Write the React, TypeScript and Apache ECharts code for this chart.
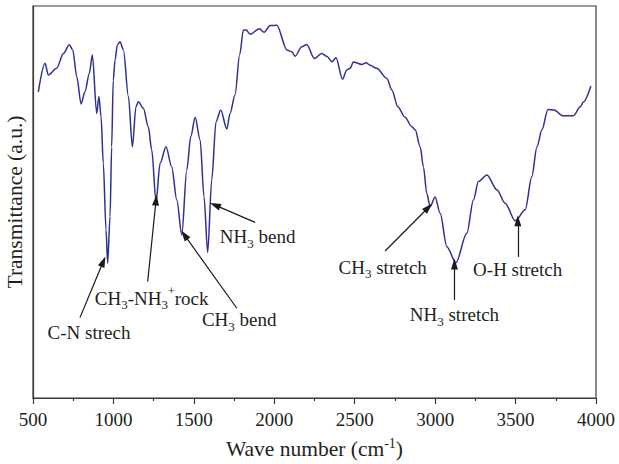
import React, { useEffect, useRef } from "react";
import * as echarts from "echarts";

const wavenumbers = [
  533, 575, 595, 647, 689, 726, 747, 772, 799, 823, 850, 869, 896, 910, 923, 937, 954, 964, 979, 989,
  999, 1010, 1024, 1041, 1062, 1093, 1118, 1140, 1155, 1186, 1217, 1238, 1265, 1290, 1327, 1362, 1394,
  1425, 1456, 1481, 1508, 1539, 1563, 1586, 1611, 1638, 1667, 1705, 1725, 1756, 1785, 1808, 1825, 1850,
  1907, 1937, 1974, 2016, 2078, 2109, 2129, 2171, 2202, 2249, 2295, 2326, 2358, 2384, 2424, 2451, 2471,
  2492, 2544, 2571, 2596, 2637, 2700, 2731, 2768, 2813, 2855, 2876, 2907, 2927, 2948, 2969, 3000, 3031,
  3073, 3129, 3197, 3238, 3269, 3322, 3384, 3435, 3498, 3560, 3601, 3633, 3664, 3701, 3740, 3792, 3860,
  3902, 3923, 3968,
];
const transmittance = [
  78.1, 85.4, 82.4, 84.1, 87.9, 90.1, 88.8, 82.0, 75.0, 78.1, 82.8, 87.5, 72.6, 76.9, 71.8, 59.9, 42.9,
  34.4, 46.3, 64.1, 81.1, 86.2, 90.0, 90.9, 88.8, 76.9, 64.1, 74.3, 75.6, 73.9, 69.2, 63.3, 50.1, 59.9,
  64.1, 59.0, 50.5, 41.6, 58.2, 66.7, 71.6, 65.8, 51.4, 37.1, 55.6, 70.5, 73.5, 68.6, 72.6, 77.3, 87.6,
  93.9, 93.9, 92.8, 94.2, 93.3, 95.0, 95.1, 88.8, 88.3, 87.2, 89.6, 90.2, 86.6, 87.9, 87.2, 85.8, 86.8,
  81.3, 83.7, 84.1, 85.7, 85.1, 85.5, 84.9, 84.1, 81.5, 78.6, 74.3, 71.6, 69.2, 68.4, 64.1, 59.0, 52.2,
  48.8, 51.3, 47.1, 38.6, 34.5, 42.0, 50.5, 55.2, 56.9, 53.1, 49.7, 45.2, 48.0, 56.5, 64.1, 68.4, 73.6,
  73.5, 72.0, 72.0, 74.3, 75.6, 79.6,
];
const xTicks = [500, 1000, 1500, 2000, 2500, 3000, 3500, 4000];

// annotation labels (rich text), their anchor positions and arrow tails/heads in data units
const annLabels = [
  "C-N strech",
  "CH{s|3}-NH{s|3}{p|+}rock",
  "CH{s|3} bend",
  "NH{s|3} bend",
  "CH{s|3} stretch",
  "NH{s|3} stretch",
  "O-H stretch",
];
const annTextX = [848, 1238, 1782, 1896, 2674, 3120, 3513];
const annTextY = [16.6, 25.5, 19.9, 41.1, 33.4, 21.2, 32.7];
const arrowFromX = [792, 1213, 1767, 1881, 2689, 3120, 3514];
const arrowFromY = [20.5, 29.7, 22.9, 44.8, 37.5, 25.0, 36.0];
const arrowToX = [937, 1265, 1441, 1632, 2958, 3120, 3514];
const arrowToY = [34.8, 50.5, 41.6, 49.2, 48.6, 34.2, 45.2];

const FONT = "'Liberation Serif', 'DejaVu Serif', serif";
const TEXT = "#231f20";

export default function App() {
  const ref = useRef<HTMLDivElement>(null);
  useEffect(() => {
    if (!ref.current) return;
    const chart = echarts.init(ref.current, undefined, { renderer: "svg" });
    const data = wavenumbers.map((w, i) => [w, transmittance[i]]);
    const rich = {
      s: { fontSize: 13, fontFamily: FONT, color: TEXT, verticalAlign: "bottom", lineHeight: 13 },
      p: { fontSize: 12, fontFamily: FONT, color: TEXT, verticalAlign: "top", lineHeight: 16 },
    };
    chart.setOption({
      animation: false,
      grid: {
        left: 33,
        right: 23,
        top: 6,
        bottom: 66,
        containLabel: false,
        outerBoundsMode: "none",
        show: true,
        borderColor: "#3a3a3a",
        borderWidth: 1.2,
        backgroundColor: "transparent",
      },
      xAxis: {
        type: "value",
        min: xTicks[0],
        max: xTicks[xTicks.length - 1],
        interval: 500,
        name: "Wave number (cm{sup|-1})",
        nameLocation: "middle",
        nameGap: 38,
        nameTextStyle: {
          fontSize: 21.5,
          fontFamily: FONT,
          color: TEXT,
          lineHeight: 26,
          rich: {
            sup: { fontSize: 14, fontFamily: FONT, color: TEXT, verticalAlign: "top", lineHeight: 18 },
          },
        },
        axisLine: { show: true, lineStyle: { color: "#3a3a3a", width: 1.2 } },
        axisTick: { show: true, inside: false, length: 6, lineStyle: { color: "#3a3a3a", width: 1.2 } },
        minorTick: { show: true, splitNumber: 2, length: 3, lineStyle: { color: "#3a3a3a", width: 1.2 } },
        splitLine: { show: false },
        axisLabel: {
          fontSize: 19,
          fontFamily: FONT,
          color: TEXT,
          margin: 12,
          formatter: (v: number) => String(v),
        },
      },
      yAxis: {
        type: "value",
        min: 0,
        max: 100,
        name: "Transmittance (a.u.)",
        nameLocation: "middle",
        nameRotate: 90,
        nameGap: 7,
        nameTextStyle: { fontSize: 21.5, fontFamily: FONT, color: TEXT },
        axisLine: { show: true, lineStyle: { color: "#3a3a3a", width: 1.2 } },
        axisTick: { show: false },
        axisLabel: { show: false },
        splitLine: { show: false },
      },
      series: [
        {
          type: "line",
          data,
          showSymbol: false,
          smooth: 0.3,
          smoothMonotone: "x",
          lineStyle: { color: "#2e3192", width: 1.5 },
          silent: true,
          markLine: {
            silent: true,
            symbol: ["none", "triangle"],
            symbolSize: 9,
            label: { show: false },
            lineStyle: { color: "#1a1a1a", width: 1.2, type: "solid" },
            emphasis: { disabled: true },
            data: arrowFromX.map((x, i) => [
              { coord: [x, arrowFromY[i]] },
              { coord: [arrowToX[i], arrowToY[i]], symbolSize: [7, 11] },
            ]),
          },
          markPoint: {
            silent: true,
            symbol: "circle",
            symbolSize: 0,
            label: {
              show: true,
              position: "inside",
              formatter: (p: any) => p.name,
              fontSize: 19,
              fontFamily: FONT,
              color: TEXT,
              lineHeight: 26,
              rich,
            },
            data: annLabels.map((name, i) => ({ name, coord: [annTextX[i], annTextY[i]] })),
          },
        },
      ],
    });
    return () => chart.dispose();
  }, []);
  return (
    <div
      ref={ref}
      style={{ position: "fixed", left: 0, top: 0, width: 619, height: 464, background: "#fff" }}
    />
  );
}
